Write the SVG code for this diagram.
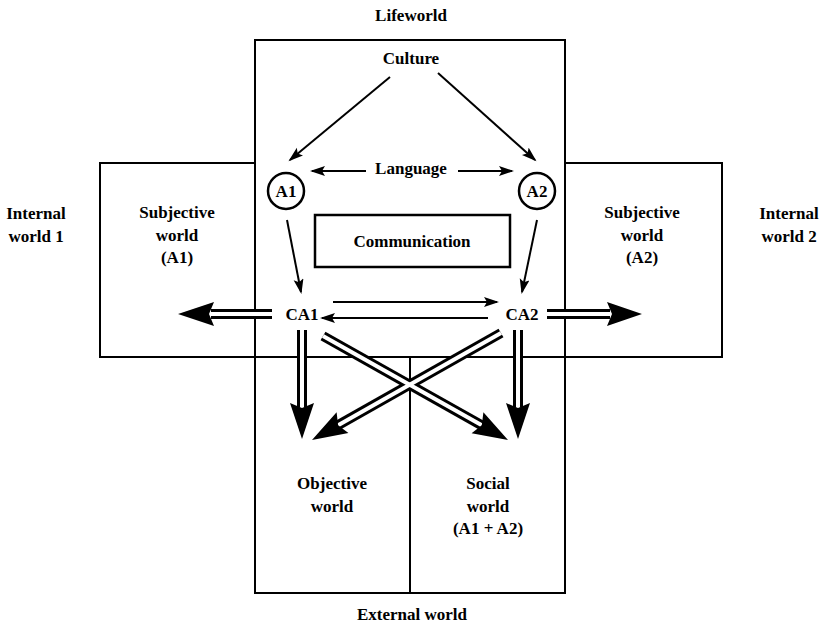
<svg xmlns="http://www.w3.org/2000/svg" width="825" height="626" viewBox="0 0 825 626">
<style>
text{font-family:"Liberation Serif","Times New Roman",serif;font-weight:bold;font-size:17px;fill:#000;text-anchor:middle}
.frame{fill:none;stroke:#000;stroke-width:2}
.thin{fill:none;stroke:#000;stroke-width:2}
.outer{fill:none;stroke:#000;stroke-width:10}
.inner{fill:none;stroke:#fff;stroke-width:4}
.head{fill:#000}
</style>
<defs>
<marker id="ah" markerUnits="userSpaceOnUse" markerWidth="16" markerHeight="12" refX="13" refY="5" orient="auto">
<path d="M0,0 L15,5 L0,10 L3,5 z" fill="#000"/>
</marker>
</defs>
<rect width="825" height="626" fill="#fff"/>
<g id="frames">
<path class="frame" d="M255,40 H565 V593 H255 Z"/>
<path class="frame" d="M255,163 H100 V357 H722 V163 H565"/>
<path class="frame" d="M410,357 V593"/>
</g>
<g id="lifeworld"><text x="411" y="21">Lifeworld</text></g>
<g id="culture"><text x="411" y="64">Culture</text></g>
<g id="language"><text x="411" y="174">Language</text></g>
<g id="a1"><circle cx="286" cy="191" r="18" fill="none" stroke="#000" stroke-width="2.5"/><text x="286" y="197" font-size="16">A1</text></g>
<g id="a2"><circle cx="537" cy="191" r="18" fill="none" stroke="#000" stroke-width="2.5"/><text x="537" y="197" font-size="16">A2</text></g>
<g id="communication"><rect x="315" y="215" width="195" height="52" fill="none" stroke="#000" stroke-width="2.5"/><text x="412" y="247" font-size="15">Communication</text></g>
<g id="ca1"><text x="302" y="320">CA1</text></g>
<g id="ca2"><text x="522" y="320">CA2</text></g>
<g id="internal1"><text x="36" y="219">Internal</text><text x="36" y="242">world 1</text></g>
<g id="subjective1"><text x="177" y="218">Subjective</text><text x="177" y="241">world</text><text x="177" y="263">(A1)</text></g>
<g id="subjective2"><text x="642" y="218">Subjective</text><text x="642" y="241">world</text><text x="642" y="263">(A2)</text></g>
<g id="internal2"><text x="789" y="219">Internal</text><text x="789" y="242">world 2</text></g>
<g id="objective"><text x="332" y="489">Objective</text><text x="332" y="512">world</text></g>
<g id="social"><text x="488" y="489">Social</text><text x="488" y="512">world</text><text x="488" y="534">(A1 + A2)</text></g>
<g id="external"><text x="412" y="620">External world</text></g>
<g id="connectors">
<path class="thin" marker-end="url(#ah)" d="M390,77 L290,160"/>
<path class="thin" marker-end="url(#ah)" d="M438,73 L535,160"/>
<path class="thin" marker-end="url(#ah)" d="M366,171 L312,171"/>
<path class="thin" marker-end="url(#ah)" d="M458,171 L512,171"/>
<path class="thin" marker-end="url(#ah)" d="M287,220 L301,292"/>
<path class="thin" marker-end="url(#ah)" d="M537,220 L522,292"/>
<path class="thin" marker-end="url(#ah)" d="M333,302 L497,302"/>
<path class="thin" marker-end="url(#ah)" d="M488,318 L322,318"/>
<g id="double-arrows">
<path class="outer" d="M272,314 L211,314"/>
<path class="outer" d="M547,314 L610,314"/>
<path class="outer" d="M302,330 L302,407"/>
<path class="outer" d="M518,330 L518,407"/>
<path class="outer" d="M323,336 L481.8,425.3"/>
<path class="outer" d="M501,333 L338.1,425.2"/>
<path class="inner" d="M272,314 L211,314"/>
<path class="inner" d="M547,314 L610,314"/>
<path class="inner" d="M302,330 L302,407"/>
<path class="inner" d="M518,330 L518,407"/>
<path class="inner" d="M323,336 L481.8,425.3"/>
<path class="inner" d="M501,333 L338.1,425.2"/>
<polygon class="head" points="178,314 214,302 209,314 214,326"/>
<polygon class="head" points="642,314 607,302 612,314 607,326"/>
<polygon class="head" points="302,439 290,403 302,408 314,403"/>
<polygon class="head" points="518,439 506,403 518,408 530,403"/>
<polygon class="head" points="508,440 483.4,412.3 481.8,425.3 471.6,433.3"/>
<polygon class="head" points="312,440 336.6,412.3 338.1,425.2 348.4,433.1"/>
</g>
</g>
</svg>
